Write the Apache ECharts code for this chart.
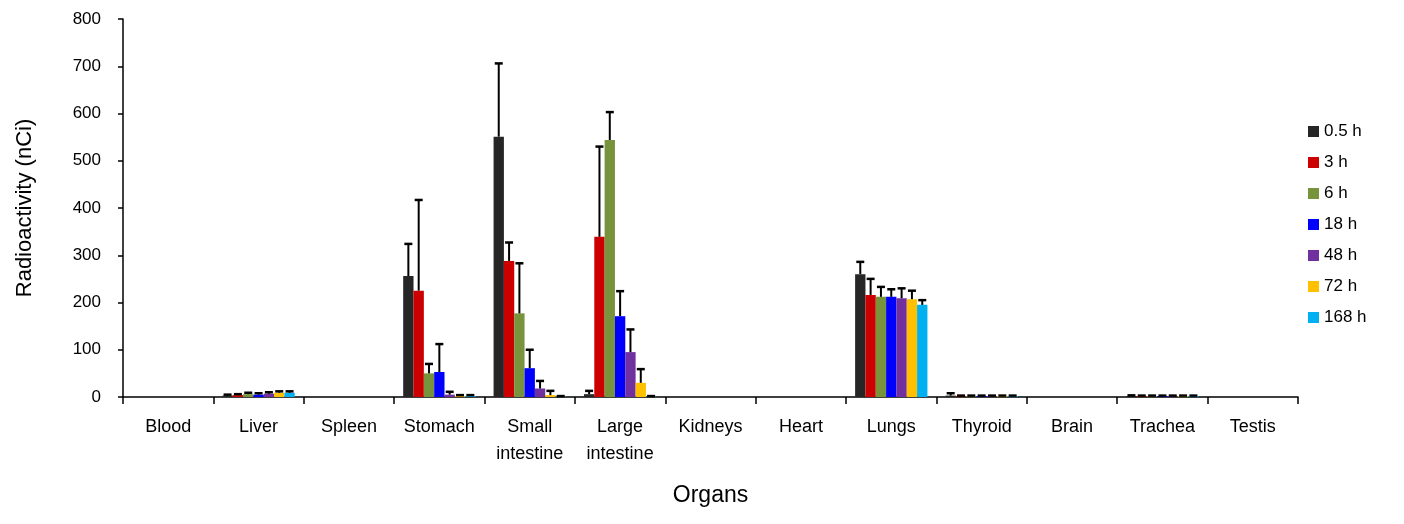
<!DOCTYPE html>
<html><head><meta charset="utf-8">
<script src="https://cdn.jsdelivr.net/npm/echarts@6/dist/echarts.min.js"></script>
<style>html,body{margin:0;padding:0;background:#fff}#c{width:1404px;height:524px}</style>
</head><body><div id="c"></div>
<script>
const categories = ['Blood','Liver','Spleen','Stomach','Small\nintestine','Large\nintestine','Kidneys','Heart','Lungs','Thyroid','Brain','Trachea','Testis'];
const seriesNames = ['0.5 h','3 h','6 h','18 h','48 h','72 h','168 h'];
const colors = ['#262626','#cc0000','#77933c','#0000ff','#7030a0','#ffc000','#00b0f0'];
const yTicks = [0,100,200,300,400,500,600,700,800];
// values per series (one per category)
const v05  = [0, 3, 0, 256, 551, 6, 0, 0, 260, 3, 0, 2, 0];
const v3   = [0, 4, 0, 225, 288, 339, 0, 0, 216, 2, 0, 2, 0];
const v6   = [0, 6, 0, 50, 177, 544, 0, 0, 212, 2, 0, 2, 0];
const v18  = [0, 5, 0, 53, 61, 171, 0, 0, 212, 2, 0, 2, 0];
const v48  = [0, 7, 0, 5, 18, 95, 0, 0, 209, 2, 0, 2, 0];
const v72  = [0, 9, 0, 2, 4, 30, 0, 0, 207, 2, 0, 2, 0];
const v168 = [0, 9, 0, 2, 1, 1, 0, 0, 195, 2, 0, 2, 0];
// error (upper) values
const e05  = [0, 2, 0, 68, 155, 7, 0, 0, 26, 5, 0, 1.5, 0];
const e3   = [0, 2, 0, 192, 39, 191, 0, 0, 34, 1, 0, 1, 0];
const e6   = [0, 3, 0, 20, 106, 59, 0, 0, 21, 1, 0, 1, 0];
const e18  = [0, 3, 0, 59, 39, 53, 0, 0, 16, 1, 0, 1, 0];
const e48  = [0, 3, 0, 6, 16, 48, 0, 0, 21, 1, 0, 1, 0];
const e72  = [0, 3, 0, 2, 9, 29, 0, 0, 18, 1, 0, 1, 0];
const e168 = [0, 3, 0, 2, 1, 1, 0, 0, 10, 1, 0, 1, 0];
const values = [v05,v3,v6,v18,v48,v72,v168];
const errors = [e05,e3,e6,e18,e48,e72,e168];

const GAP = 0.2, N = seriesNames.length;
const font = 'Liberation Sans';
const series = [];
seriesNames.forEach((name,i)=>{
  series.push({name, type:'bar', data: values[i], itemStyle:{color:colors[i]}, barGap:'0%', barCategoryGap:'20%'});
});
seriesNames.forEach((name,i)=>{
  series.push({
    type:'custom', name: name+'_err', silent:true, z:5,
    data: values[i].map((v,k)=>[k, v, v+errors[i][k]]),
    renderItem:(params, api)=>{
      const k = api.value(0);
      const base = api.coord([k, api.value(1)]);
      const top = api.coord([k, api.value(2)]);
      const cw = api.size([1,0])[0];
      const bw = cw*(1-GAP)/N;
      const x = base[0] - cw*(1-GAP)/2 + (i+0.5)*bw;
      if (api.value(2)-api.value(1) <= 0) return null;
      const cap = 4;
      const st = {stroke:'#000', lineWidth:2};
      return {type:'group', children:[
        {type:'line', shape:{x1:x,y1:base[1],x2:x,y2:top[1]}, style:st},
        {type:'line', shape:{x1:x-cap,y1:top[1],x2:x+cap,y2:top[1]}, style:{stroke:'#000', lineWidth:2.5}}
      ]};
    }
  });
});

const chart = echarts.init(document.getElementById('c'));
chart.setOption({
  animation:false,
  textStyle:{fontFamily:font},
  legend:{
    data: seriesNames, orient:'vertical', left:1303, top:118,
    itemWidth:11, itemHeight:11, itemGap:14, icon:'rect',
    textStyle:{fontSize:17, color:'#000', fontFamily:font}
  },
  grid:{left:123, right:106, top:19, bottom:127},
  xAxis:{
    type:'category', data:categories,
    name:'Organs', nameLocation:'middle', nameGap:87,
    nameTextStyle:{fontSize:23, color:'#000', fontFamily:font},
    axisLine:{lineStyle:{color:'#000', width:1.5}},
    axisTick:{show:true, length:7, lineStyle:{color:'#000', width:1.5}, alignWithLabel:false},
    axisLabel:{fontSize:18, color:'#000', margin:17, lineHeight:27, interval:0, fontFamily:font}
  },
  yAxis:{
    type:'value', min:yTicks[0], max:yTicks[yTicks.length-1], interval:100,
    name:'Radioactivity (nCi)', nameLocation:'middle', nameGap:87, nameRotate:90,
    nameTextStyle:{fontSize:22, color:'#000', fontFamily:font},
    splitLine:{show:false},
    axisLine:{show:true, lineStyle:{color:'#000', width:1.5}},
    axisTick:{show:true, length:5, lineStyle:{color:'#000', width:1.5}},
    axisLabel:{fontSize:17, color:'#000', margin:22, fontFamily:font}
  },
  series
});
</script></body></html>
